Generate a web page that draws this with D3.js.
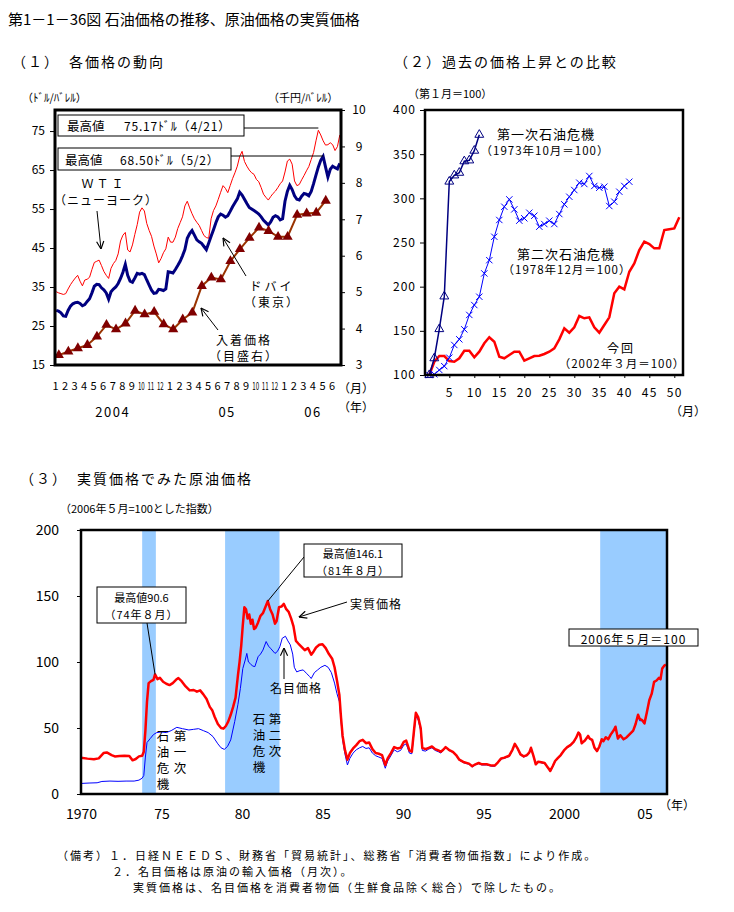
<!DOCTYPE html>
<html><head><meta charset="utf-8">
<script src="https://cdn.jsdelivr.net/npm/d3@7"></script>
<style>
body{margin:0;background:#fff}
svg text{font-family:"Noto Sans CJK JP","Noto Sans",sans-serif;fill:#000}
</style>
</head><body>
<svg id="c" width="734" height="912"></svg>
<script>
// ---------------- DATA ----------------
// Panel 1: weekly samples (4 per month), Jan 2004 – Jun 2006, $/bbl
const wti = [33.8,33.5,33.3,33.1, 33.3,34.5,35.6,36.5, 37.3,38.0,36.5,35.3, 36.8,37.0,37.5,39.5,
 41.3,41.6,41.9,40.5, 39.0,38.0,37.2,39.8, 41.0,41.8,43.5,46.8, 48.3,49.0,44.5,44.0,
 45.8,48.5,51.0,54.2, 55.3,54.5,51.3,49.5, 48.0,45.5,43.5,41.2, 42.3,43.8,44.8,47.8,
 46.5,46.5,47.8,50.0, 51.5,53.0,55.8,57.0, 55.3,53.8,52.5,51.6, 50.8,49.5,48.2,47.7,
 47.5,52.5,54.6,55.8, 57.5,59.3,61.0,60.3, 59.2,61.0,62.8,64.3, 66.0,68.5,69.8,67.2,
 66.0,65.0,64.3,63.9, 62.6,62.0,60.5,58.8, 58.0,57.3,58.2,59.0, 59.6,60.5,61.5,62.2,
 64.5,67.3,67.8,66.5, 62.2,61.0,61.3,62.5, 63.6,64.8,65.9,67.7, 69.5,72.5,75.2,74.0,
 72.5,71.4,71.5,72.0, 71.5,70.0,71.0,74.0];
const dubai = [29.0,28.8,28.4,27.6, 27.5,29.0,30.1,30.7, 31.0,31.1,30.8,30.2, 30.5,31.3,32.0,33.5,
 35.2,35.7,35.6,34.8, 34.3,33.5,31.9,33.8, 34.5,35.0,35.9,37.2, 38.8,40.8,38.0,36.5,
 36.2,37.3,38.5,38.3, 38.5,38.2,36.8,35.5, 34.2,33.4,33.5,34.4, 34.3,34.1,34.5,38.9,
 38.8,38.6,39.5,40.5, 41.6,43.0,44.6,47.5, 48.7,49.5,48.3,47.1, 46.6,46.2,45.4,44.6,
 46.3,48.0,49.7,51.5, 53.0,53.7,53.4,52.9, 53.3,54.4,55.6,56.6, 57.6,59.3,58.6,57.5,
 56.4,55.4,55.0,54.6, 54.2,53.7,53.0,52.1, 51.5,50.9,51.7,52.9, 53.3,53.0,52.2,52.5,
 57.0,59.5,61.1,60.0, 58.4,57.5,57.3,58.3, 59.0,58.8,58.4,59.5, 61.5,63.7,65.8,67.5,
 68.5,65.8,63.2,65.2, 66.0,65.6,65.3,66.7];
// monthly landed (import) price, thousand yen / bbl, Jan 2004 – May 2006
const importPrice = [3.27,3.37,3.46,3.55,3.78,4.10,3.98,4.14,4.49,4.39,4.46,4.12,
 3.98,4.25,4.44,5.17,5.40,5.35,5.85,6.18,6.49,6.77,6.68,6.52,6.52,7.12,7.16,7.18,7.51];
const p1Months = ["1","2","3","4","5","6","7","8","9","10","11","12",
 "1","2","3","4","5","6","7","8","9","10","11","12","1","2","3","4","5","6"];
const p1Years = ["2004","05","06"];
const p1YearPos = [6,18,27];
const p1LeftTicks = [15,25,35,45,55,65,75];
const p1RightTicks = [3,4,5,6,7,8,9,10];

// Panel 2: index, month 1 = 100
const crisis1 = [100,119,152,189,319,326,329,342,343,354,372];
const crisis2 = [100,100.8,105.7,110,119.6,134,140.4,151.7,168,179.2,188.6,215,230,256.5,275.5,
 290.5,298.8,287.5,274.7,277.4,283.7,280.3,267.9,270.9,274.7,270.9,282.2,293.2,301.8,309.4,
 317.7,316.2,325.3,314,312,313.2,291.3,296.2,307.5,314,318.8];
const current = [100,115,121.5,121.5,115.8,115,118.9,127.5,127.5,120,126.4,135.9,142.7,137.7,
 120.7,118.9,122.6,126.4,126.4,116.2,118.9,121.5,121.8,123.8,126.4,130.2,140.4,152.9,147.9,
 154,166.8,164.2,165.3,154,147.9,156.6,165.3,192.5,200,197,216.9,226.4,241.5,250.9,248.3,
 243.4,243.4,264.1,265,266,278.5];
const p2YTicks = [100,150,200,250,300,350,400];
const p2XTicks = [5,10,15,20,25,30,35,40,45,50];

// Panel 3: [year, index] (May 2006 = 100)
const realPrice = [[1970.0,27.5],[1970.4,26.8],[1970.8,26.3],[1971.1,27.0],[1971.4,31.0],[1971.6,31.5],
 [1971.9,29.5],[1972.1,28.5],[1972.4,28.8],[1972.7,29.0],[1973.0,28.8],[1973.2,25.5],[1973.4,26.5],
 [1973.6,28.5],[1973.8,29.0],[1973.9,32],[1974.0,48],[1974.1,70],[1974.2,84],[1974.35,85.5],
 [1974.5,86.5],[1974.6,90.6],[1974.75,87],[1974.9,88],[1975.1,85],[1975.3,83.5],[1975.5,82.5],
 [1975.7,84],[1975.9,86.5],[1976.05,87.8],[1976.25,85.5],[1976.5,81.5],[1976.75,78.5],[1977.0,78.8],
 [1977.2,77.5],[1977.4,78.5],[1977.6,75.5],[1977.8,72],[1978.0,66],[1978.15,63.5],[1978.3,58.5],
 [1978.5,53],[1978.7,50],[1978.85,49.5],[1979.0,51.5],[1979.15,55],[1979.3,60],[1979.45,66],
 [1979.6,73],[1979.75,90],[1979.85,100],[1979.95,112],[1980.05,128],[1980.15,141.5],[1980.25,140],
 [1980.35,133],[1980.45,136],[1980.55,129],[1980.65,132],[1980.75,125],[1980.85,126],[1981.0,130],
 [1981.15,135],[1981.3,137],[1981.45,141.5],[1981.6,146.1],[1981.75,140],[1981.9,136],[1982.05,129],
 [1982.15,131],[1982.3,141.5],[1982.45,142],[1982.6,144],[1982.75,140],[1982.9,138],[1983.05,133],
 [1983.2,127],[1983.35,116],[1983.5,114],[1983.7,111.5],[1983.9,109],[1984.1,110.5],[1984.3,105.5],
 [1984.45,108],[1984.6,111],[1984.8,113],[1985.0,113.5],[1985.2,110.5],[1985.4,106],[1985.6,102.5],
 [1985.75,96],[1985.9,86],[1986.05,75],[1986.15,58],[1986.25,44],[1986.4,33],[1986.55,26],
 [1986.7,31],[1986.9,34.5],[1987.1,37],[1987.3,40],[1987.5,41],[1987.7,38.5],[1987.9,39],
 [1988.1,34],[1988.3,31],[1988.5,30.5],[1988.7,29.5],[1988.9,22],[1989.05,27],[1989.25,31],
 [1989.45,35.5],[1989.65,34.5],[1989.85,35],[1990.05,39.5],[1990.2,40.5],[1990.4,33],[1990.55,32],
 [1990.7,50],[1990.8,61.5],[1990.95,58],[1991.1,50],[1991.2,35],[1991.4,34],[1991.6,35],[1991.8,36],
 [1992.0,34],[1992.2,33],[1992.35,32],[1992.5,33.5],[1992.65,35.5],[1992.85,33.5],[1993.1,32],
 [1993.3,29.5],[1993.5,26],[1993.8,24],[1994.1,23],[1994.3,21],[1994.5,22.5],[1994.7,23.5],
 [1994.9,22.5],[1995.2,22.5],[1995.5,21.5],[1995.7,21.5],[1995.9,24],[1996.1,27],[1996.3,27.5],
 [1996.6,29],[1996.8,33.5],[1996.95,38],[1997.1,35],[1997.3,30],[1997.5,28.5],[1997.7,29.5],
 [1997.85,31.5],[1997.95,35],[1998.1,29],[1998.25,22.5],[1998.4,24.5],[1998.6,24],[1998.8,23.5],
 [1999.0,20],[1999.15,17.5],[1999.3,21],[1999.45,25],[1999.6,27],[1999.8,29.5],[2000.0,33],
 [2000.2,35.5],[2000.4,37],[2000.6,39.5],[2000.75,42.5],[2000.9,46.5],[2001.0,45],[2001.1,38.5],
 [2001.3,40.5],[2001.5,44],[2001.6,42],[2001.75,41],[2001.9,35],[2002.05,32.5],[2002.2,36],
 [2002.35,41.5],[2002.45,40],[2002.6,43],[2002.75,41.5],[2002.9,45],[2003.1,48.5],[2003.2,51],
 [2003.35,42],[2003.5,44.5],[2003.7,41.5],[2003.9,43],[2004.1,45.5],[2004.3,48],[2004.45,53],
 [2004.6,60],[2004.7,57],[2004.85,56],[2005.0,53.5],[2005.15,62],[2005.3,71],[2005.45,76],
 [2005.6,85],[2005.75,86],[2005.9,88],[2006.0,87],[2006.1,95],[2006.25,97.5],[2006.33,98]];
const nominalPrice = [[1970.0,8.0],[1970.5,8.3],[1971.0,8.5],[1971.3,9.5],[1971.8,9.8],[1972.3,9.6],
 [1972.8,9.8],[1973.3,9.8],[1973.6,10.5],[1973.8,12],[1973.9,14],[1974.0,28],[1974.1,39],[1974.3,42],
 [1974.5,45],[1974.7,46.5],[1975.0,47],[1975.3,46.5],[1975.6,48],[1975.95,50.5],[1976.3,49.5],
 [1976.7,48.5],[1977.0,49],[1977.3,49.5],[1977.6,48],[1977.9,46.5],[1978.2,43.5],[1978.5,38],
 [1978.7,35],[1978.9,33.8],[1979.1,36],[1979.3,41],[1979.55,55],[1979.75,68],[1979.9,80],
 [1980.05,95],[1980.2,101.5],[1980.3,106.5],[1980.4,100],[1980.5,99],[1980.65,97],[1980.8,96.5],
 [1981.0,104],[1981.15,106],[1981.3,109],[1981.5,115.5],[1981.65,112],[1981.8,110],[1982.05,106.5],
 [1982.2,108],[1982.35,111.5],[1982.5,118],[1982.7,119.5],[1982.85,116],[1983.0,113],[1983.15,106],
 [1983.25,96],[1983.4,92.5],[1983.6,93.5],[1983.8,94],[1984.0,91.5],[1984.2,89],[1984.3,87.5],
 [1984.5,92],[1984.7,94],[1984.9,96],[1985.15,97.5],[1985.35,96],[1985.55,92],[1985.75,84],
 [1985.9,76],[1986.05,70],[1986.15,56],[1986.25,41],[1986.4,30],[1986.55,22],[1986.7,27],
 [1986.9,31],[1987.1,33.5],[1987.3,35],[1987.5,36],[1987.7,34.5],[1987.9,35],[1988.1,31],
 [1988.3,29],[1988.5,28],[1988.7,27],[1988.9,19.5],[1989.05,25],[1989.25,29],[1989.45,33.5],
 [1989.65,32],[1989.85,33],[1990.05,37],[1990.2,38],[1990.4,31],[1990.55,30.5],[1990.7,48],
 [1990.8,59],[1990.95,56],[1991.1,48],[1991.2,33],[1991.4,32.5],[1991.6,34],[1991.8,35],[1992.0,33],
 [1992.2,32],[1992.35,31],[1992.5,33],[1992.65,35],[1992.85,33],[1993.1,31.5],[1993.3,29],
 [1993.5,25.5],[1993.8,23.5],[1994.1,22.5],[1994.3,20.5],[1994.5,22],[1994.7,23],[1994.9,22],
 [1995.2,22],[1995.5,21],[1995.7,21],[1995.9,23.5],[1996.1,26.5],[1996.3,27],[1996.6,28.5],
 [1996.8,33],[1996.95,37.5],[1997.1,34.5],[1997.3,29.5],[1997.5,28],[1997.7,29],[1997.85,31],
 [1997.95,35.5],[1998.1,28.5],[1998.25,22],[1998.4,24.5],[1998.6,23.5],[1998.8,23],[1999.0,19.5],
 [1999.15,17],[1999.3,20.5],[1999.45,24.5],[1999.6,27],[1999.8,29],[2000.0,32.5],[2000.2,35],
 [2000.4,36.5],[2000.6,39],[2000.75,42],[2000.9,47],[2001.0,44.5],[2001.1,38],[2001.3,40],
 [2001.5,43.5],[2001.6,41.5],[2001.75,40.5],[2001.9,34.5],[2002.05,32],[2002.2,35.5],[2002.35,41],
 [2002.45,39.5],[2002.6,42.5],[2002.75,41],[2002.9,44.5],[2003.1,48],[2003.2,51.5],[2003.35,41.5],
 [2003.5,44],[2003.7,41],[2003.9,42.5],[2004.1,45],[2004.3,47.5],[2004.45,52.5],[2004.6,59.5],
 [2004.7,55.5],[2004.85,55.5],[2005.0,53],[2005.15,61.5],[2005.3,70.5],[2005.45,75.5],[2005.6,84.5],
 [2005.75,85.5],[2005.9,87.5],[2006.0,86.5],[2006.1,94.5],[2006.25,97],[2006.33,97.5]];
const crisisBands = [[1973.8,1974.65],[1978.95,1982.33],[2002.25,2006.4]];
const p3YTicks = [0,50,100,150,200];
const p3XTicks = [1970,1975,1980,1985,1990,1995,2000,2005];
const p3XLabels = ["1970","75","80","85","90","95","2000","05"];

// ---------------- DRAW ----------------
const svg = d3.select("#c");
const defs = svg.append("defs");
defs.append("marker").attr("id","ah").attr("viewBox","0 0 10 10").attr("refX",9.5).attr("refY",5)
  .attr("markerWidth",9).attr("markerHeight",9).attr("orient","auto").attr("markerUnits","userSpaceOnUse")
  .append("path").attr("d","M1,1 L9.5,5 L1,9").attr("fill","none").attr("stroke","#000").attr("stroke-width",1.3);

function T(x,y,s,o={}){
  const t=svg.append("text").attr("x",x).attr("y",y).attr("dominant-baseline","central")
    .attr("font-size",o.size||12).text(s);
  if(o.anchor) t.attr("text-anchor",o.anchor);
  if(o.ls!==undefined) t.attr("letter-spacing",o.ls);
  return t;
}
function arrow(x1,y1,x2,y2){
  svg.append("line").attr("x1",x1).attr("y1",y1).attr("x2",x2).attr("y2",y2)
    .attr("stroke","#000").attr("stroke-width",1).attr("marker-end","url(#ah)");
}
function styleAxis(g,fs){
  g.select(".domain").remove();
  g.selectAll("line").attr("stroke","#000");
  g.selectAll("text").attr("font-size",fs).attr("fill","#000")
    .style("font-family",'"Noto Sans CJK JP","Noto Sans",sans-serif');
}

// Titles
T(8,18,"第1－1－36図  石油価格の推移、原油価格の実質価格",{size:15});
T(12,61,"（１）　各価格の動向",{size:14,ls:2});
T(394,61,"（２）過去の価格上昇との比較",{size:14,ls:2});
T(20,478,"（３）　実質価格でみた原油価格",{size:14,ls:2});

// ===== Panel 1 =====
const p1={l:55,r:341,t:110,b:365};
const x1=d3.scaleLinear().domain([0,30]).range([p1.l,p1.r]);
const yL=d3.scaleLinear().domain([15,80.4]).range([p1.b,p1.t]);
const yR=d3.scaleLinear().domain([3,10]).range([p1.b,p1.t]);
defs.append("clipPath").attr("id","cp1").append("rect").attr("x",p1.l).attr("y",p1.t).attr("width",p1.r-p1.l).attr("height",p1.b-p1.t);
const g1=svg.append("g").attr("clip-path","url(#cp1)");
const wk=i=>i/4+0.125;
g1.append("path").attr("d",d3.line().x((d,i)=>x1(wk(i))).y(d=>yL(d))(wti))
  .attr("fill","none").attr("stroke","#ff0000").attr("stroke-width",1);
g1.append("path").attr("d",d3.line().x((d,i)=>x1(wk(i))).y(d=>yL(d))(dubai))
  .attr("fill","none").attr("stroke","#000080").attr("stroke-width",3);
g1.append("path").attr("d",d3.line().x((d,i)=>x1(i+0.4)).y(d=>yR(d))(importPrice))
  .attr("fill","none").attr("stroke","#993300").attr("stroke-width",2);
g1.selectAll("path.tri").data(importPrice).enter().append("path")
  .attr("transform",(d,i)=>`translate(${x1(i+0.4)},${yR(d)})`)
  .attr("d",d3.symbol(d3.symbolTriangle,45)).attr("fill","#800000");
svg.append("rect").attr("x",p1.l).attr("y",p1.t).attr("width",p1.r-p1.l).attr("height",p1.b-p1.t)
  .attr("fill","none").attr("stroke","#000").attr("stroke-width",3);
let a;
a=svg.append("g").attr("transform",`translate(${p1.l},0)`).call(d3.axisLeft(yL).tickValues(p1LeftTicks).tickSize(5).tickPadding(5));
styleAxis(a,12);
a=svg.append("g").attr("transform",`translate(${p1.r},0)`).call(d3.axisRight(yR).tickValues(p1RightTicks).tickFormat(d3.format("d")).tickSize(4).tickPadding(14));
styleAxis(a,12); a.selectAll("text").attr("text-anchor","middle");
a=svg.append("g").attr("transform",`translate(0,${p1.b})`).call(d3.axisBottom(x1).tickValues(d3.range(30)).tickFormat(i=>p1Months[i]).tickSize(0).tickPadding(17));
styleAxis(a,11);
a.selectAll("text").filter(function(){return this.textContent.length>1;}).attr("transform","scale(0.56,1)");
a=svg.append("g").attr("transform",`translate(0,${p1.b})`).call(d3.axisBottom(x1).tickValues(p1YearPos).tickFormat((d,i)=>p1Years[i]).tickSize(0).tickPadding(43));
styleAxis(a,13); a.selectAll("text").attr("letter-spacing",1.5);
T(356,387,"（月）",{size:12,anchor:"middle"});
T(356,406,"（年）",{size:12,anchor:"middle"});
T(22,97,"（ﾄﾞﾙ/ﾊﾞﾚﾙ）",{size:11});
T(268,97,"（千円/ﾊﾞﾚﾙ）",{size:11});
// peak boxes
svg.append("line").attr("x1",244).attr("y1",128).attr("x2",x1(wk(110))).attr("y2",128).attr("stroke","#000");
svg.append("rect").attr("x",58).attr("y",115).attr("width",186).attr("height",21).attr("fill","#fff").attr("stroke","#000");
T(67,125.5,"最高値",{size:12.5}); T(124,125.5,"75.17ﾄﾞﾙ（4/21）",{size:12,ls:0.8});
svg.append("line").attr("x1",231).attr("y1",156).attr("x2",x1(wk(112))).attr("y2",156).attr("stroke","#000");
svg.append("rect").attr("x",58).attr("y",148).attr("width",173).attr("height",22).attr("fill","#fff").attr("stroke","#000");
T(65,159,"最高値",{size:12.5}); T(120,159,"68.50ﾄﾞﾙ（5/2）",{size:12,ls:0.8});
T(104,182,"ＷＴＩ",{size:12,anchor:"middle",ls:3});
T(106,199,"（ニューヨーク）",{size:12,anchor:"middle",ls:1});
arrow(97,211,101,249);
T(272,285,"ドバイ",{size:12,anchor:"middle",ls:3});
T(272,301,"（東京）",{size:12,anchor:"middle",ls:2});
arrow(246,276,223,238);
T(244,339,"入着価格",{size:12,anchor:"middle",ls:2});
T(244,355,"（目盛右）",{size:12,anchor:"middle",ls:2});
arrow(218,330,201,308);

// ===== Panel 2 =====
const p2={l:425,r:683,t:110,b:375};
const x2=d3.scaleLinear().domain([0.14,51.74]).range([p2.l,p2.r]);
const y2=d3.scaleLinear().domain([100,400]).range([p2.b,p2.t]);
const ln2=d3.line().x((d,i)=>x2(i+1)).y(d=>y2(d));
svg.append("path").attr("d",ln2(current)).attr("fill","none").attr("stroke","#ff0000").attr("stroke-width",2.5);
svg.append("path").attr("d",ln2(crisis2)).attr("fill","none").attr("stroke","#0000ff").attr("stroke-width",1);
svg.selectAll("path.x2").data(crisis2).enter().append("path")
  .attr("transform",(d,i)=>`translate(${x2(i+1)},${y2(d)})`)
  .attr("d",d3.symbol(d3.symbolTimes,28)).attr("fill","none").attr("stroke","#0000ff").attr("stroke-width",1);
svg.append("path").attr("d",ln2(crisis1)).attr("fill","none").attr("stroke","#000080").attr("stroke-width",1.5);
svg.selectAll("path.t2").data(crisis1).enter().append("path")
  .attr("transform",(d,i)=>`translate(${x2(i+1)},${y2(d)})`)
  .attr("d",d3.symbol(d3.symbolTriangle,34)).attr("fill","none").attr("stroke","#000080").attr("stroke-width",1);
svg.append("rect").attr("x",p2.l).attr("y",p2.t).attr("width",p2.r-p2.l).attr("height",p2.b-p2.t)
  .attr("fill","none").attr("stroke","#000").attr("stroke-width",2.5);
a=svg.append("g").attr("transform",`translate(${p2.l},0)`).call(d3.axisLeft(y2).tickValues(p2YTicks).tickSize(5).tickPadding(4));
styleAxis(a,12); a.selectAll("text").attr("letter-spacing",1);
a=svg.append("g").attr("transform",`translate(0,${p2.b})`).call(d3.axisBottom(x2).tickValues(p2XTicks).tickSize(3).tickPadding(10));
styleAxis(a,12); a.selectAll("text").attr("letter-spacing",1.5);
T(688,410,"（月）",{size:12,anchor:"middle"});
T(408,93,"（第１月＝100）",{size:11});
T(546,133,"第一次石油危機",{size:13,anchor:"middle",ls:1});
T(545,150,"（1973年10月＝100）",{size:11.5,anchor:"middle",ls:1});
T(566,253,"第二次石油危機",{size:13,anchor:"middle",ls:1});
T(567,269,"（1978年12月＝100）",{size:11.5,anchor:"middle",ls:1});
T(621,347,"今回",{size:12,anchor:"middle",ls:2});
T(622,363,"（2002年３月＝100）",{size:11.5,anchor:"middle",ls:1});

// ===== Panel 3 =====
const p3={l:81,r:667,t:530,b:794};
const x3=d3.scaleLinear().domain([1970,2006.4]).range([p3.l,p3.r]);
const y3=d3.scaleLinear().domain([0,200]).range([p3.b,p3.t]);
svg.selectAll("rect.band").data(crisisBands).enter().append("rect")
  .attr("x",d=>x3(d[0])).attr("width",d=>x3(d[1])-x3(d[0])).attr("y",p3.t).attr("height",p3.b-p3.t)
  .attr("fill","#99ccff");
const ln3=d3.line().x(d=>x3(d[0])).y(d=>y3(d[1]));
svg.append("path").attr("d",ln3(nominalPrice)).attr("fill","none").attr("stroke","#0000ff").attr("stroke-width",1);
svg.append("path").attr("d",ln3(realPrice)).attr("fill","none").attr("stroke","#ff0000").attr("stroke-width",2.5).attr("stroke-linejoin","round");
svg.append("rect").attr("x",p3.l).attr("y",p3.t).attr("width",p3.r-p3.l).attr("height",p3.b-p3.t)
  .attr("fill","none").attr("stroke","#000").attr("stroke-width",2.5);
a=svg.append("g").attr("transform",`translate(${p3.l},0)`).call(d3.axisLeft(y3).tickValues(p3YTicks).tickSize(4).tickPadding(18));
styleAxis(a,14);
a=svg.append("g").attr("transform",`translate(0,${p3.b})`).call(d3.axisBottom(x3).tickValues(p3XTicks).tickFormat((d,i)=>p3XLabels[i]).tickSize(0).tickPadding(15));
styleAxis(a,14);
T(677,804,"（年）",{size:12,anchor:"middle"});
T(60,508,"（2006年５月=100とした指数）",{size:11});
// annotations
svg.append("line").attr("x1",147).attr("y1",623).attr("x2",x3(1974.6)).attr("y2",y3(90.6)).attr("stroke","#000");
svg.append("rect").attr("x",97).attr("y",587).attr("width",89).attr("height",36).attr("fill","#fff").attr("stroke","#000");
T(141.5,596.5,"最高値90.6",{size:11,anchor:"middle"});
T(141.5,613.5,"（74年８月）",{size:11,anchor:"middle",ls:1});
svg.append("line").attr("x1",304).attr("y1",557).attr("x2",x3(1981.6)).attr("y2",y3(146.1)).attr("stroke","#000");
svg.append("rect").attr("x",304).attr("y",544).attr("width",98).attr("height",33).attr("fill","#fff").attr("stroke","#000");
T(353,552.5,"最高値146.1",{size:11,anchor:"middle"});
T(353,569.5,"（81年８月）",{size:11,anchor:"middle",ls:1});
T(350,603,"実質価格",{size:12,ls:1});
arrow(347,602,299,617);
T(270,687,"名目価格",{size:12,ls:1});
arrow(284,679,284,648);
svg.append("rect").attr("x",569).attr("y",629).attr("width",129).attr("height",17).attr("fill","#fff").attr("stroke","#000");
T(633.5,638,"2006年５月＝100",{size:12,anchor:"middle",ls:1});
function vcol(x,yTop,s){
  svg.append("text").attr("x",x).attr("y",yTop).attr("writing-mode","vertical-rl")
    .attr("font-size",12.5).attr("letter-spacing",3.5).text(s);
}
vcol(180,730,"第一次"); vcol(163,730,"石油危機");
vcol(275,713,"第二次"); vcol(259,713,"石油危機");

// footnotes
T(57,855,"（備考）１．日経ＮＥＥＤＳ、財務省「貿易統計」、総務省「消費者物価指数」により作成。",{size:11,ls:2});
T(112,871,"２．名目価格は原油の輸入価格（月次）。",{size:11,ls:2});
T(133,887,"実質価格は、名目価格を消費者物価（生鮮食品除く総合）で除したもの。",{size:11,ls:2});
</script>
</body></html>
